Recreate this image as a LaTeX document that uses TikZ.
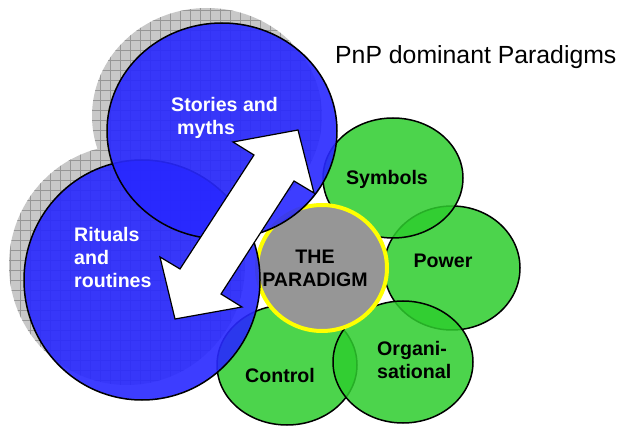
\documentclass[tikz,border=0pt]{standalone}
\usepackage{fontspec}
\setmainfont{Liberation Sans}
\definecolor{bluefill}{RGB}{40,40,255}
\definecolor{greenfill}{RGB}{45,205,45}
\definecolor{shadowgray}{RGB}{200,200,200}
\definecolor{gridgray}{RGB}{150,150,150}
\definecolor{paragray}{RGB}{150,150,150}
\definecolor{rimyellow}{RGB}{255,255,0}
\begin{document}
\begin{tikzpicture}[x=1pt,y=-1pt,
  bluecirc/.style={draw=black, line width=1.5pt, fill=bluefill, fill opacity=0.9, draw opacity=1},
  greencirc/.style={draw=black, line width=1.5pt, fill=greenfill, fill opacity=0.85, draw opacity=1},
  lbl/.style={font=\fontsize{19.6}{23}\selectfont\bfseries, inner sep=0pt},
  arrowshape/.style={draw=black, line width=1.2pt, fill=white, line join=miter},
  gridlines/.style={gridgray, line width=0.6pt}
]
\useasboundingbox (0,0) rectangle (621,427);
% shadows
\begin{scope}
  \clip (207,116) ellipse [x radius=115, y radius=108];
  \fill[shadowgray] (0,0) rectangle (400,400);
  \draw[gridlines, step=10pt] (0pt,0pt) grid (400pt,-430pt);
\end{scope}
\begin{scope}
  \clip (127,265) ellipse [x radius=118, y radius=120];
  \fill[shadowgray] (0,0) rectangle (400,427);
  \draw[gridlines, step=10pt] (0pt,0pt) grid (400pt,-430pt);
\end{scope}
% green circles
\draw[greencirc] (452,268) ellipse [x radius=68, y radius=62];
\draw[greencirc] (287,365) ellipse [x radius=70, y radius=60];
\draw[greencirc] (393,178) ellipse [x radius=70, y radius=60];
\draw[greencirc] (403,362) ellipse [x radius=70, y radius=61];
% paradigm
\draw[draw=rimyellow, line width=4pt, fill=paragray] (322,268) ellipse [x radius=65, y radius=63];
% blue circles
\draw[bluecirc] (142,280) ellipse [x radius=118, y radius=120];
\draw[bluecirc] (222,131) ellipse [x radius=115, y radius=108];
% double arrow
\draw[arrowshape] (298,130) -- (233,142) -- (254,155) -- (180,269) -- (160,257)
  -- (175,319) -- (242,307) -- (221,294) -- (294,181) -- (314,193) -- cycle;
% labels (anchor base = baseline of last line)
\node[lbl, white, align=left, anchor=base west] (stories) at (171,135) {Stories and\\\hspace*{6pt}myths};
\node[lbl, white, align=left, anchor=base west] (rituals) at (74,288) {Rituals\\and\\routines};
\node[lbl, black, align=center, anchor=base] (paradigm) at (315,287) {THE\\PARADIGM};
\node[lbl, black, anchor=base] (symbols) at (387,185) {Symbols};
\node[lbl, black, anchor=base] (power) at (443,268) {Power};
\node[lbl, black, align=left, anchor=base west] (organ) at (377,379) {Organi-\\sational};
\node[lbl, black, anchor=base] (control) at (280,382) {Control};
\node[font=\fontsize{24.8}{28}\selectfont, inner sep=0pt, anchor=base west] (title) at (335,64) {PnP dominant Paradigms};
\end{tikzpicture}
\end{document}
